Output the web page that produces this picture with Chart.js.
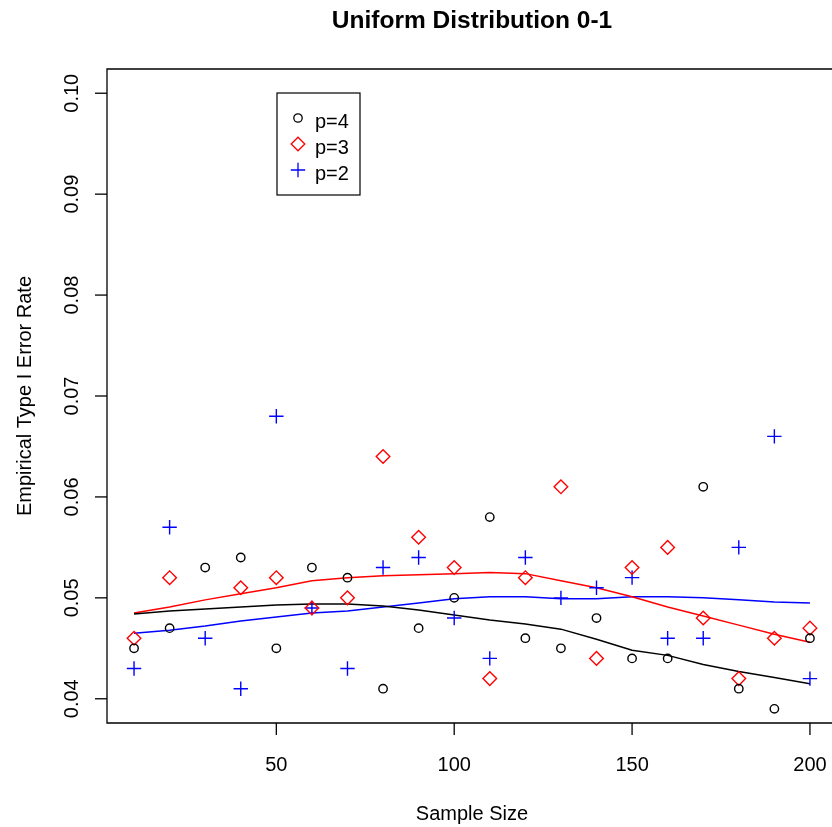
<!DOCTYPE html>
<html>
<head>
<meta charset="utf-8">
<title>Uniform Distribution 0-1</title>
<script src="https://cdn.jsdelivr.net/npm/chart.js@4.4.1/dist/chart.umd.min.js"></script>
<style>
  html, body { margin: 0; padding: 0; background: #fff; overflow: hidden; }
  canvas { display: block; }
</style>
</head>
<body>
<canvas id="errChart" width="832" height="827"></canvas>
<script>
// Data
const sampleSize = [10, 20, 30, 40, 50, 60, 70, 80, 90, 100, 110, 120, 130, 140, 150, 160, 170, 180, 190, 200];

const p4 = [0.045, 0.047, 0.053, 0.054, 0.045, 0.053, 0.052, 0.041, 0.047, 0.050,
            0.058, 0.046, 0.045, 0.048, 0.044, 0.044, 0.061, 0.041, 0.039, 0.046];
const p3 = [0.046, 0.052, null, 0.051, 0.052, 0.049, 0.050, 0.064, 0.056, 0.053,
            0.042, 0.052, 0.061, 0.044, 0.053, 0.055, 0.048, 0.042, 0.046, 0.047];
const p2 = [0.043, 0.057, 0.046, 0.041, 0.068, 0.049, 0.043, 0.053, 0.054, 0.048,
            0.044, 0.054, 0.050, 0.051, 0.052, 0.046, 0.046, 0.055, 0.066, 0.042];

// smoothed curves
const fit4 = [0.0484, 0.0487, 0.0489, 0.0491, 0.0493, 0.0494, 0.0494, 0.0492, 0.0488, 0.0483,
              0.0478, 0.0474, 0.0469, 0.0459, 0.0448, 0.0443, 0.0434, 0.0427, 0.0421, 0.0415];
const fit3 = [0.0485, 0.0491, 0.0498, 0.0504, 0.0510, 0.0517, 0.0520, 0.0522, 0.0523, 0.0524,
              0.0525, 0.0524, 0.0517, 0.0510, 0.0501, 0.0491, 0.0482, 0.0473, 0.0464, 0.0456];
const fit2 = [0.0465, 0.0468, 0.0472, 0.0477, 0.0481, 0.0485, 0.0487, 0.0491, 0.0495, 0.0499,
              0.0501, 0.0501, 0.0499, 0.0499, 0.0501, 0.0501, 0.0500, 0.0498, 0.0496, 0.0495];

const xTicks = [50, 100, 150, 200];
const yTicks = [0.04, 0.05, 0.06, 0.07, 0.08, 0.09, 0.10];
const seriesNames = ['p=4', 'p=3', 'p=2'];

const FONT = '"Liberation Sans", Arial, Helvetica, sans-serif';

function pairs(ys) {
  return sampleSize.map((x, i) => ({ x: x, y: ys[i] })).filter(d => d.y !== null);
}

// R style axes, labels, title and legend
const rAxes = {
  id: 'rAxes',
  beforeDraw(chart) {
    const c = chart.ctx;
    c.save();
    c.fillStyle = '#fff';
    c.fillRect(0, 0, chart.width, chart.height);
    c.restore();
  },
  afterDraw(chart) {
    const c = chart.ctx;
    const a = chart.chartArea;
    const xs = chart.scales.x, ys = chart.scales.y;
    c.save();
    c.strokeStyle = '#000';
    c.fillStyle = '#000';
    c.lineWidth = 1.3;

    // box (right side is off the canvas)
    c.beginPath();
    c.moveTo(a.right + 10, a.top);
    c.lineTo(a.left, a.top);
    c.lineTo(a.left, a.bottom);
    c.lineTo(a.right + 10, a.bottom);
    c.stroke();

    // x ticks
    c.font = '20px ' + FONT;
    c.textAlign = 'center';
    c.textBaseline = 'middle';
    xTicks.forEach(t => {
      const px = xs.getPixelForValue(t);
      c.beginPath();
      c.moveTo(px, a.bottom);
      c.lineTo(px, a.bottom + 12);
      c.stroke();
      c.fillText(String(t), px, a.bottom + 42);
    });

    // y ticks (labels turned like R's las=0)
    yTicks.forEach(t => {
      const py = ys.getPixelForValue(t);
      c.beginPath();
      c.moveTo(a.left, py);
      c.lineTo(a.left - 12, py);
      c.stroke();
      c.save();
      c.translate(a.left - 35, py);
      c.rotate(-Math.PI / 2);
      c.fillText(t.toFixed(2), 0, 0);
      c.restore();
    });

    // axis titles
    const midX = (a.left + xs.getPixelForValue(207.6)) / 2;
    c.fillText('Sample Size', midX, a.bottom + 91);
    c.save();
    c.translate(a.left - 82, (a.top + a.bottom) / 2);
    c.rotate(-Math.PI / 2);
    c.fillText('Empirical Type I Error Rate', 0, 0);
    c.restore();

    // main title
    c.font = 'bold 24.5px ' + FONT;
    c.fillText('Uniform Distribution 0-1', midX, 21);

    // legend
    const lx = a.left + 170, ly = a.top + 24;
    c.lineWidth = 1.2;
    c.strokeRect(lx, ly, 83, 102);
    c.font = '20px ' + FONT;
    c.textAlign = 'left';
    const styles = chart.data.datasets.slice(0, 3);
    styles.forEach((ds, i) => {
      const cy = ly + 26 + i * 26;
      const sx = lx + 21;
      c.strokeStyle = ds.borderColor;
      c.fillStyle = 'rgba(0,0,0,0)';
      c.lineWidth = 1.3;
      Chart.helpers.drawPoint(c, {
        pointStyle: ds.pointStyle,
        radius: ds.pointRadius,
        borderWidth: 1.3,
        rotation: 0
      }, sx, cy - 1);
      c.fillStyle = '#000';
      c.fillText(seriesNames[i], lx + 38, cy + 3);
    });
    c.restore();
  }
};

new Chart(document.getElementById('errChart'), {
  type: 'scatter',
  data: {
    datasets: [
      { label: 'p=4', data: pairs(p4), pointStyle: 'circle', pointRadius: 4.2,
        borderColor: '#000000', backgroundColor: 'rgba(0,0,0,0)', borderWidth: 1.4, showLine: false },
      { label: 'p=3', data: pairs(p3), pointStyle: 'rectRot', pointRadius: 6.8,
        borderColor: '#ff0000', backgroundColor: 'rgba(0,0,0,0)', borderWidth: 1.4, showLine: false },
      { label: 'p=2', data: pairs(p2), pointStyle: 'cross', pointRadius: 7.2,
        borderColor: '#0000ff', backgroundColor: 'rgba(0,0,0,0)', borderWidth: 1.4, showLine: false },
      { label: 'fit p=4', data: pairs(fit4), showLine: true, pointRadius: 0,
        borderColor: '#000000', borderWidth: 1.5, tension: 0, fill: false },
      { label: 'fit p=3', data: pairs(fit3), showLine: true, pointRadius: 0,
        borderColor: '#ff0000', borderWidth: 1.5, tension: 0, fill: false },
      { label: 'fit p=2', data: pairs(fit2), showLine: true, pointRadius: 0,
        borderColor: '#0000ff', borderWidth: 1.5, tension: 0, fill: false }
    ]
  },
  options: {
    responsive: false,
    animation: false,
    devicePixelRatio: 1,
    events: [],
    layout: { autoPadding: false, padding: { left: 107, top: 69, right: 0, bottom: 104 } },
    scales: {
      x: { type: 'linear', display: false, min: 2.4, max: 206.2 },
      y: { type: 'linear', display: false, min: 0.0376, max: 0.1024 }
    },
    plugins: {
      legend: { display: false },
      tooltip: { enabled: false },
      title: { display: false }
    }
  },
  plugins: [rAxes]
});
</script>
</body>
</html>
